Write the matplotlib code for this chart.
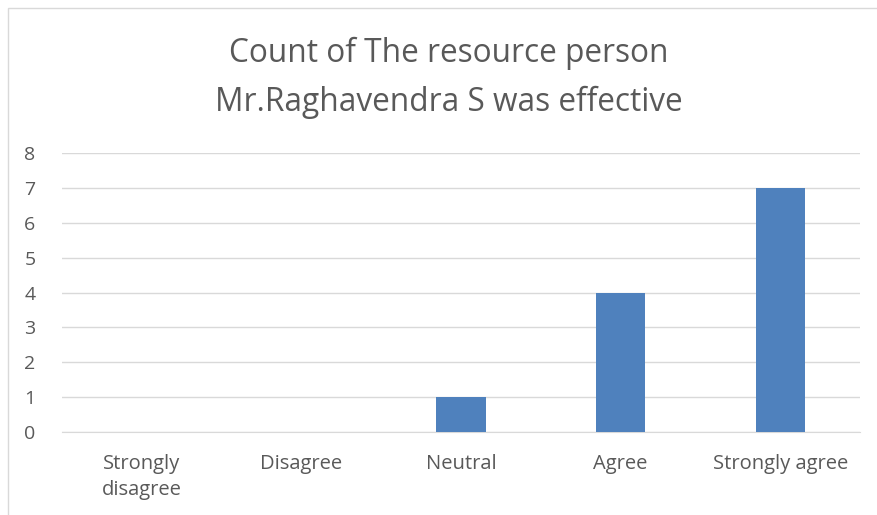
import matplotlib.pyplot as plt
from matplotlib.patches import Rectangle

# Survey responses
categories = ["Strongly\ndisagree", "Disagree", "Neutral", "Agree", "Strongly agree"]
counts = [0, 0, 1, 4, 7]
yticks = [0, 1, 2, 3, 4, 5, 6, 7, 8]

plt.rcParams['font.family'] = ['Open Sans', 'DejaVu Sans']

fig = plt.figure(figsize=(8.77, 5.15), dpi=100)
ax = fig.add_axes([0.0707, 0.161, 0.910, 0.542])

x = range(len(categories))
ax.bar(x, counts, width=0.31, color='#4f81bd', zorder=3)

ax.set_xlim(-0.5, 4.5)
ax.set_ylim(0, 8)
ax.set_yticks(yticks)
ax.set_xticks(list(x))
ax.set_xticklabels(categories, fontsize=14.5, color='#595959', linespacing=1.35)
ax.tick_params(axis='y', labelsize=14, labelcolor='#595959', length=0, pad=19)
ax.tick_params(axis='x', length=0, pad=16)

ax.grid(axis='y', color='#d9d9d9', linewidth=1, zorder=0)
for s in ['top', 'right', 'left']:
    ax.spines[s].set_visible(False)
ax.spines['bottom'].set_color('#d9d9d9')

fig.text(0.512, 0.849, "Count of The resource person\nMr.Raghavendra S was effective",
         ha='center', va='center', fontsize=22.8, color='#595959', linespacing=1.6)

# chart border
fig.patches.append(Rectangle((0.009, -0.01), 1.2, 0.995, transform=fig.transFigure,
                             fill=False, edgecolor='#d9d9d9', linewidth=1))

fig.savefig('out.png', dpi=100)
